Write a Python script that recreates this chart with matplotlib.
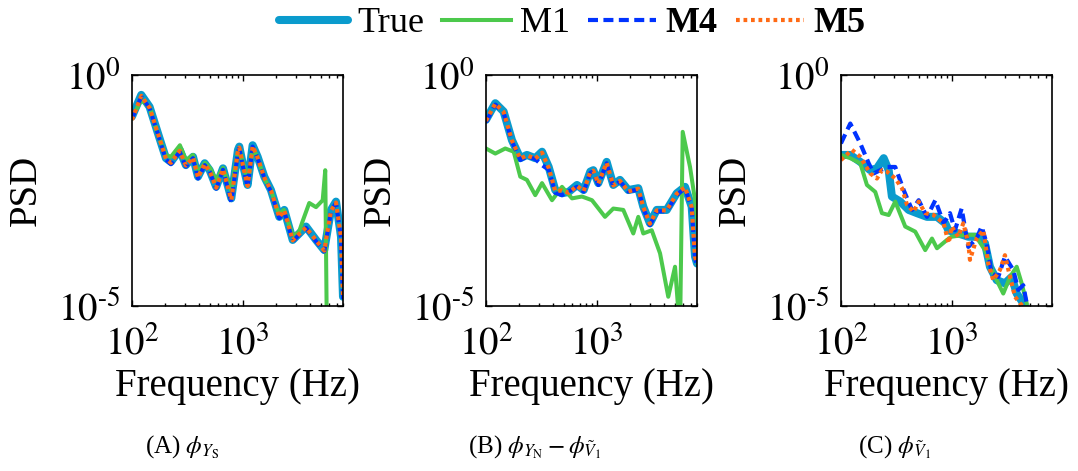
import numpy as np
import matplotlib
matplotlib.use('Agg')
import matplotlib.pyplot as plt
from matplotlib.ticker import LogLocator, NullFormatter, NullLocator

plt.rcParams['font.family'] = ['Liberation Serif', 'DejaVu Serif']
plt.rcParams['mathtext.fontset'] = 'stix'

# values, as log10(frequency) and log10(PSD)
# panel (A)
f1_true = [2.000, 2.084, 2.159, 2.234, 2.306, 2.351, 2.430, 2.486, 2.550, 2.595, 2.655, 2.700, 2.759, 2.820, 2.895,
           2.955, 2.967, 2.997, 3.042, 3.087, 3.132, 3.192, 3.252, 3.327, 3.372, 3.448, 3.507, 3.568, 3.658, 3.732,
           3.793, 3.838, 3.883, 3.901]
p1_true = [-0.90, -0.43, -0.69, -1.26, -1.80, -1.88, -1.62, -1.95, -1.77, -2.20, -1.91, -2.06, -2.42, -2.02, -2.67,
           -1.62, -1.55, -1.91, -2.38, -1.52, -1.77, -2.20, -2.49, -3.07, -2.92, -3.57, -3.43, -3.28, -3.57, -3.79,
           -2.92, -2.74, -3.50, -4.80]
f1_m1 = [2.000, 2.084, 2.162, 2.234, 2.306, 2.351, 2.432, 2.486, 2.550, 2.595, 2.658, 2.703, 2.757, 2.820, 2.892,
         2.955, 2.973, 3.000, 3.045, 3.090, 3.135, 3.189, 3.252, 3.324, 3.369, 3.450, 3.504, 3.541, 3.597, 3.658,
         3.718, 3.741, 3.754, 3.80]
p1_m1 = [-0.93, -0.54, -0.71, -1.30, -1.73, -1.77, -1.52, -1.84, -1.73, -2.10, -1.90, -2.01, -2.27, -2.01, -2.49,
         -1.67, -1.62, -1.90, -2.27, -1.58, -1.80, -2.23, -2.49, -3.01, -2.92, -3.48, -3.40, -3.14, -2.77, -2.86,
         -2.71, -2.06, -5.20, -6.0]
p1_m4 = [-0.95, -0.47, -0.72, -1.28, -1.83, -1.93, -1.66, -1.98, -1.80, -2.24, -1.95, -2.09, -2.46, -2.05, -2.75,
         -1.66, -1.58, -1.95, -2.42, -1.55, -1.80, -2.23, -2.52, -3.10, -2.95, -3.60, -3.45, -3.31, -3.60, -3.82,
         -2.95, -2.77, -3.53, -4.85]
p1_m5 = [-0.97, -0.45, -0.71, -1.27, -1.81, -1.90, -1.64, -1.96, -1.79, -2.22, -1.93, -2.08, -2.44, -2.04, -2.70,
         -1.64, -1.57, -1.93, -2.40, -1.54, -1.79, -2.22, -2.50, -3.08, -2.93, -3.58, -3.44, -3.30, -3.58, -3.80,
         -2.94, -2.76, -3.51, -4.82]

# panel (B)
f2_true = [2.000, 2.084, 2.159, 2.234, 2.309, 2.369, 2.444, 2.505, 2.565, 2.624, 2.685, 2.745, 2.820, 2.880, 2.940,
           2.967, 3.012, 3.087, 3.147, 3.207, 3.282, 3.372, 3.417, 3.477, 3.538, 3.628, 3.718, 3.793, 3.853, 3.883,
           3.901]
p2_true = [-0.97, -0.61, -0.79, -1.41, -1.80, -1.73, -1.80, -1.66, -1.99, -2.49, -2.56, -2.53, -2.38, -2.49, -2.09,
           -2.06, -2.34, -1.88, -2.38, -2.27, -2.49, -2.45, -2.85, -3.21, -2.92, -2.92, -2.56, -2.42, -2.85, -3.93,
           -4.08]
f2_m1 = [2.000, 2.084, 2.174, 2.250, 2.309, 2.369, 2.444, 2.505, 2.595, 2.685, 2.775, 2.865, 2.955, 3.072, 3.147,
         3.237, 3.327, 3.372, 3.417, 3.493, 3.568, 3.642, 3.703, 3.748, 3.772, 3.838, 3.883, 3.910]
p2_m1 = [-1.59, -1.70, -1.59, -1.66, -2.20, -2.27, -2.60, -2.34, -2.71, -2.42, -2.67, -2.63, -2.71, -3.07, -2.89,
         -2.92, -3.43, -3.07, -3.43, -3.36, -3.86, -4.80, -4.15, -5.60, -1.23, -1.99, -2.71, -3.28]
p2_m4 = [-1.02, -0.64, -0.82, -1.44, -1.84, -1.76, -1.82, -1.95, -2.05, -2.55, -2.60, -2.52, -2.42, -2.52, -2.12,
         -2.09, -2.38, -1.91, -2.42, -2.30, -2.52, -2.48, -2.88, -3.25, -2.95, -2.95, -2.60, -2.45, -2.88, -3.97,
         -4.12]
p2_m5 = [-0.99, -0.62, -0.80, -1.42, -1.81, -1.74, -1.81, -1.68, -2.01, -2.51, -2.50, -2.55, -2.40, -2.51, -2.10,
         -2.07, -2.35, -1.90, -2.39, -2.29, -2.52, -2.46, -2.86, -3.22, -2.93, -2.93, -2.57, -2.43, -2.86, -3.94,
         -4.09]

# panel (C)
f3_true = [2.000, 2.084, 2.174, 2.264, 2.324, 2.385, 2.430, 2.459, 2.534, 2.610, 2.685, 2.775, 2.865, 2.940, 2.967,
           3.057, 3.147, 3.237, 3.297, 3.342, 3.403, 3.477, 3.538, 3.583, 3.642, 3.676]
p3_true = [-1.73, -1.73, -1.88, -2.06, -2.02, -1.80, -2.06, -2.63, -2.74, -2.92, -2.99, -3.07, -3.07, -3.21, -3.36,
           -3.43, -3.50, -3.50, -3.64, -4.15, -4.44, -4.51, -4.37, -4.73, -4.94, -5.10]
f3_m1 = [2.000, 2.084, 2.174, 2.234, 2.309, 2.369, 2.430, 2.489, 2.579, 2.669, 2.759, 2.820, 2.865, 2.955, 2.997,
         3.117, 3.207, 3.297, 3.372, 3.462, 3.523, 3.583, 3.628, 3.673]
p3_m1 = [-1.73, -1.80, -1.91, -2.38, -2.53, -2.99, -3.03, -2.74, -3.28, -3.39, -3.79, -3.54, -3.75, -3.57, -3.50,
         -3.46, -3.46, -3.79, -4.29, -4.73, -4.37, -4.15, -4.51, -4.94]
f3_m4 = [2.000, 2.084, 2.174, 2.250, 2.295, 2.354, 2.414, 2.489, 2.565, 2.640, 2.700, 2.775, 2.850, 2.925, 2.982,
         3.027, 3.087, 3.147, 3.222, 3.267, 3.312, 3.357, 3.417, 3.477, 3.552, 3.597, 3.642, 3.673, 3.688]
p3_m4 = [-1.48, -1.05, -1.48, -1.91, -2.13, -2.06, -1.99, -1.99, -2.49, -2.92, -2.71, -3.07, -2.71, -3.21, -2.99,
         -3.36, -2.89, -3.72, -3.54, -3.28, -3.64, -4.29, -4.37, -3.93, -4.22, -4.65, -4.55, -4.94, -5.10]
f3_m5 = [2.000, 2.099, 2.174, 2.264, 2.324, 2.369, 2.414, 2.489, 2.550, 2.595, 2.655, 2.700, 2.759, 2.835, 2.925,
         2.970, 2.997, 3.057, 3.102, 3.147, 3.162, 3.222, 3.282, 3.327, 3.372, 3.432, 3.477, 3.523, 3.568, 3.613,
         3.642]
p3_m5 = [-1.84, -1.62, -1.77, -2.13, -2.24, -2.06, -2.09, -2.24, -2.45, -2.81, -2.96, -2.74, -2.99, -3.03, -3.21,
         -3.64, -3.28, -3.50, -3.21, -3.64, -4.00, -3.54, -3.36, -4.08, -4.44, -4.22, -3.90, -4.37, -4.80, -4.94,
         -5.01]

xtick_labels = ['$10^{2}$', '$10^{3}$']
ytick_labels = ['$10^{\u20105}$', '$10^{0}$']
captions = [r'(A) $\phi_{Y_{\mathrm{S}}}$',
            r'(B) $\phi_{Y_{\mathrm{N}}} - \phi_{\tilde{V}_1}$',
            r'(C) $\phi_{\tilde{V}_1}$']

panels = [
    [(f1_true, p1_true), (f1_m1, p1_m1), (f1_true, p1_m4), (f1_true, p1_m5)],
    [(f2_true, p2_true), (f2_m1, p2_m1), (f2_true, p2_m4), (f2_true, p2_m5)],
    [(f3_true, p3_true), (f3_m1, p3_m1), (f3_m4, p3_m4), (f3_m5, p3_m5)],
]

names = ['True', 'M1', 'M4', 'M5']
styles = [dict(color='#0A9BCD', lw=5.8, ls='-', solid_capstyle='round'),
          dict(color='#4CC94C', lw=2.9, ls='-'),
          dict(color='#0033FF', lw=3.0, ls=(0, (2.4, 1.3))),
          dict(color='#FF6A14', lw=3.0, ls=(0, (0.9, 0.9)))]

fig = plt.figure(figsize=(10.78, 4.71), dpi=100)
lefts = [0.1224, 0.4508, 0.7801]
cap_x = [0.169, 0.496, 0.830]

for i, series in enumerate(panels):
    ax = fig.add_axes([lefts[i], 0.3503, 0.1960, 0.4904])
    for (lf, lp), name, st in zip(series, names, styles):
        ax.plot(np.power(10.0, lf), np.power(10.0, lp), label=name, **st)
    ax.set_xscale('log')
    ax.set_yscale('log')
    ax.set_xlim(100, 8000)
    ax.set_ylim(1e-5, 1)
    ax.set_xticks([100, 1000])
    ax.set_xticklabels(xtick_labels)
    ax.set_yticks([1e-5, 1])
    ax.set_yticklabels(ytick_labels)
    ax.xaxis.set_minor_locator(LogLocator(base=10, subs=np.arange(2, 10), numticks=20))
    ax.xaxis.set_minor_formatter(NullFormatter())
    ax.yaxis.set_minor_locator(NullLocator())
    ax.tick_params(which='both', direction='in', top=True, right=True, width=1.0)
    ax.tick_params(which='major', length=4)
    ax.tick_params(which='minor', length=2.5)
    ax.tick_params(axis='x', labelsize=28, pad=15)
    ax.tick_params(axis='y', labelsize=28, pad=8)
    for s in ax.spines.values():
        s.set_linewidth(1.2)
    ax.set_xlabel('Frequency (Hz)', fontsize=28, labelpad=3)
    ax.set_ylabel('PSD', fontsize=28, labelpad=10)
    fig.text(cap_x[i], 0.05, captions[i], fontsize=18, ha='center', va='center')

handles, labels = ax.get_legend_handles_labels()
leg = fig.legend(handles, labels, loc='center', bbox_to_anchor=(0.531, 0.95), ncol=4, frameon=False,
                 fontsize=26, handlelength=1.9, handletextpad=0.25, columnspacing=0.5, borderaxespad=0)
for t in leg.get_texts()[2:]:
    t.set_fontweight('bold')

fig.savefig('out.png', dpi=100)
